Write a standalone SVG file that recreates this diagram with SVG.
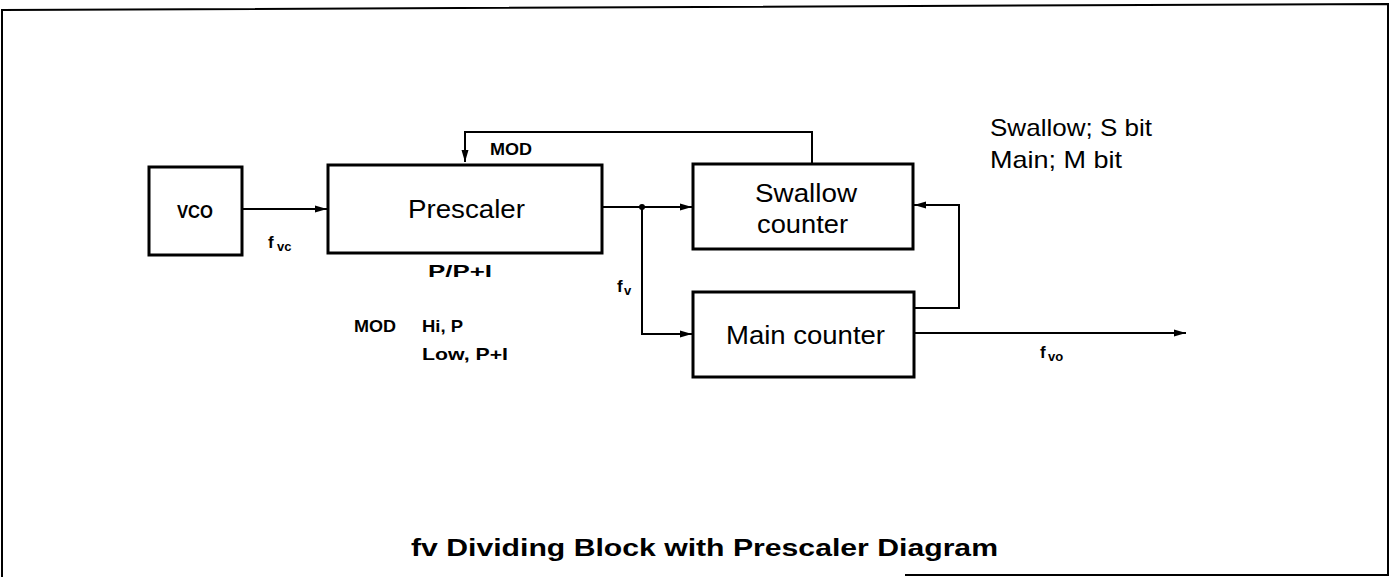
<svg xmlns="http://www.w3.org/2000/svg" width="1391" height="577" viewBox="0 0 1391 577">
<defs>
<marker id="arr" viewBox="0 0 12 8" refX="12" refY="4" markerWidth="12" markerHeight="8" markerUnits="userSpaceOnUse" orient="auto">
<path d="M0,0.5 L12,4 L0,7.5 Z" fill="#000"/>
</marker>
<style>
.box{fill:#fff;stroke:#000;stroke-width:3}
.ln{fill:none;stroke:#000;stroke-width:2}
.t{font-family:"Liberation Sans",Arial,sans-serif;fill:#000}
.big{font-size:25px}
.sm{font-size:17px;font-weight:bold}
.sub{font-size:13px;font-weight:bold}
</style>
</defs>
<rect width="1391" height="577" fill="#fff"/>
<g id="frame">
<path class="ln" d="M2,577 L2,10 L1388,4 L1388,575 L905,575"/>
</g>
<g id="connectors">
<path class="ln" d="M242,209 L327,209" marker-end="url(#arr)"/>
<path class="ln" d="M812,164 L812,132 L465,132 L465,162" marker-end="url(#arr)"/>
<path class="ln" d="M602,207 L692,207" marker-end="url(#arr)"/>
<path class="ln" d="M642,207 L642,334 L692,334" marker-end="url(#arr)"/>
<circle cx="642" cy="207" r="3" fill="#000"/>
<path class="ln" d="M914,308 L959,308 L959,205 L914,205" marker-end="url(#arr)"/>
<path class="ln" d="M914,333 L1186,333" marker-end="url(#arr)"/>
</g>
<g id="vco">
<rect class="box" x="149" y="167" width="93" height="88"/>
<text class="t" x="195" y="218" font-size="18" font-weight="bold" text-anchor="middle" textLength="36" lengthAdjust="spacingAndGlyphs">VCO</text>
</g>
<g id="prescaler">
<rect class="box" x="328" y="165" width="274" height="88"/>
<text class="t big" x="408" y="218" textLength="117" lengthAdjust="spacingAndGlyphs">Prescaler</text>
</g>
<g id="swallow">
<rect class="box" x="693" y="164" width="220" height="85"/>
<text class="t big" x="755" y="202" textLength="102" lengthAdjust="spacingAndGlyphs">Swallow</text>
<text class="t big" x="757" y="233" textLength="91" lengthAdjust="spacingAndGlyphs">counter</text>
</g>
<g id="main">
<rect class="box" x="693" y="292" width="221" height="85"/>
<text class="t big" x="726" y="344" textLength="159" lengthAdjust="spacingAndGlyphs">Main counter</text>
</g>
<g id="labels">
<text class="t sm" x="268" y="248">f</text><text class="t sub" x="277" y="251">vc</text>
<text class="t sm" x="490" y="155" textLength="42" lengthAdjust="spacingAndGlyphs">MOD</text>
<text class="t sm" x="428" y="277" textLength="64" lengthAdjust="spacingAndGlyphs">P/P+I</text>
<text class="t sm" x="617" y="292">f</text><text class="t sub" x="624" y="295">v</text>
<text class="t sm" x="354" y="332" textLength="42" lengthAdjust="spacingAndGlyphs">MOD</text>
<text class="t sm" x="422" y="332" textLength="41" lengthAdjust="spacingAndGlyphs">Hi, P</text>
<text class="t sm" x="422" y="360" textLength="86" lengthAdjust="spacingAndGlyphs">Low, P+I</text>
<text class="t sm" x="1040" y="358">f</text><text class="t sub" x="1048" y="361">vo</text>
<text class="t" x="990" y="136" font-size="24" textLength="162" lengthAdjust="spacingAndGlyphs">Swallow; S bit</text>
<text class="t" x="990" y="168" font-size="24" textLength="132" lengthAdjust="spacingAndGlyphs">Main; M bit</text>
</g>
<g id="title">
<text class="t" x="411" y="556" font-size="23" font-weight="bold" textLength="587" lengthAdjust="spacingAndGlyphs">fv Dividing Block with Prescaler Diagram</text>
</g>
</svg>
